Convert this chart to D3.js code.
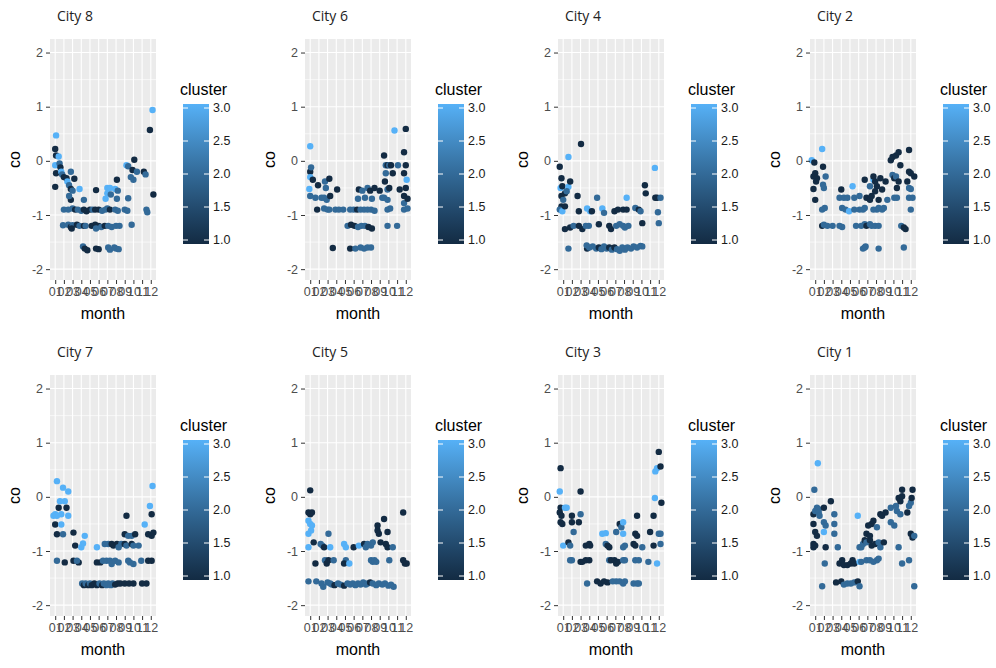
<!DOCTYPE html>
<html>
<head>
<meta charset="utf-8">
<script src="https://cdn.jsdelivr.net/npm/d3@7"></script>
<style>
  body { margin: 0; background: #fff; }
  text { font-family: "Liberation Sans", Arial, sans-serif; }
</style>
</head>
<body>
<div id="chart"></div>
<script>
// ---- data: [month (jittered), co, cluster] ----
const monthLabels = ["01","02","03","04","05","06","07","08","09","10","11","12"];
const yTicks = [-2, -1, 0, 1, 2];
const yMinor = [-1.5, -0.5, 0.5, 1.5];
const clusterBreaks = [1.0, 1.5, 2.0, 2.5, 3.0];
const cityNames = ["City 8", "City 6", "City 4", "City 2", "City 7", "City 5", "City 3", "City 1"];

const city8 = [
  [1.1,0.47,3],[1.0,0.22,1],[1.1,0.10,1],[1.4,0.08,3],[1.0,-0.08,3],[1.5,-0.05,2],[1.1,-0.23,1],[1.6,-0.12,1],
  [1.0,-0.48,1],[1.7,-0.2,3],[1.8,-0.25,2],[2.0,-0.3,1],[2.3,-0.32,1],[2.4,-0.38,3],[2.8,-0.2,2],[2.6,-0.45,2],
  [2.8,-0.52,1],[3.2,-0.33,1],[3.0,-0.55,2],[3.8,-0.52,3],[2.8,-0.72,1],[2.6,-0.65,2],[4.3,-0.72,2],[5.7,-0.54,1],
  [7.0,-0.5,3],[7.3,-0.5,3],[7.0,-0.6,3],[7.4,-0.62,2],[6.8,-0.7,3],[7.9,-0.52,3],[8.1,-0.35,1],[8.2,-0.55,2],
  [8.1,-0.7,2],[9.4,-0.69,2],
  [2.0,-0.9,2],[2.5,-0.9,2],[3.0,-0.88,2],[3.3,-0.9,1],[3.6,-0.9,2],[4.0,-0.92,2],[4.3,-0.9,1],[4.6,-0.93,1],
  [5.0,-0.9,1],[5.3,-0.9,2],[5.6,-0.9,1],[6.0,-0.9,1],[6.4,-0.92,2],[6.8,-0.9,2],[7.0,-0.88,2],[7.3,-0.9,1],
  [7.9,-0.9,2],[8.2,-0.92,2],[9.0,-0.9,2],[9.3,-0.92,2],[11.5,-0.9,2],[11.6,-0.95,2],
  [1.9,-1.19,2],[2.5,-1.18,2],[2.8,-1.22,1],[3.0,-1.19,2],[3.5,-1.18,1],[3.8,-1.2,2],[4.3,-1.2,1],[4.5,-1.2,2],
  [5.2,-1.2,1],[5.6,-1.18,1],[6.0,-1.2,1],[6.3,-1.22,2],[6.7,-1.2,1],[7.1,-1.2,2],[7.5,-1.22,2],[8.0,-1.2,2],
  [8.4,-1.2,2],[9.8,-1.18,2],[2.9,-1.25,1],[5.7,-1.25,2],
  [4.2,-1.58,2],[4.4,-1.62,1],[4.7,-1.65,1],[5.7,-1.62,1],[6.0,-1.63,1],[7.1,-1.6,2],[7.3,-1.64,2],[7.8,-1.6,2],
  [8.0,-1.62,2],[8.3,-1.63,2],
  [9.2,-0.08,3],[9.4,-0.1,2],[10.1,0.02,1],[9.9,-0.17,1],[9.7,-0.3,2],[10.0,-0.35,2],[10.4,-0.2,2],[11.2,-0.2,1],
  [11.4,-0.25,2],[11.9,0.57,1],[12.2,0.94,3],[12.3,-0.62,1]
];

const city6 = [
  [1.0,0.27,3],[1.0,-0.2,1],[1.1,-0.12,2],[1.0,-0.3,3],[0.9,-0.52,3],[1.0,-0.65,2],[1.3,-0.35,1],[1.9,-0.45,1],
  [1.6,-0.68,2],[1.8,-0.9,1],[2.3,-0.68,2],[2.6,-0.68,2],[2.9,-0.72,2],[2.7,-0.38,2],[2.8,-0.5,2],[3.2,-0.33,1],
  [3.2,-0.9,2],[2.6,-0.88,2],[3.0,-0.9,2],[3.3,-0.65,1],[4.1,-0.53,1],[3.9,-0.9,2],[4.3,-0.9,2],[4.8,-0.9,2],
  [3.6,-1.61,1],
  [5.3,-1.2,2],[5.7,-1.18,1],[6.1,-1.2,1],[6.5,-1.22,2],[6.9,-1.2,2],[7.3,-1.2,2],[7.7,-1.22,1],[8.1,-1.25,1],
  [5.6,-1.62,1],[6.2,-1.62,2],[6.8,-1.6,2],[7.2,-1.62,2],[7.6,-1.6,2],[8.0,-1.6,2],
  [5.6,-0.9,2],[6.0,-0.9,2],[6.4,-0.9,1],[6.8,-0.9,2],[7.2,-0.9,2],[7.6,-0.9,2],[8.0,-0.9,2],[8.4,-0.92,2],
  [6.6,-0.53,1],[6.5,-0.7,2],[7.0,-0.55,2],[7.3,-0.68,2],[7.6,-0.5,2],[7.9,-0.55,1],[8.1,-0.7,2],[8.4,-0.5,1],
  [9.0,-0.55,1],[9.3,-0.68,2],
  [9.5,0.1,1],[9.7,-0.08,2],[9.9,-0.08,1],[10.1,-0.08,2],[10.3,-0.08,1],[9.7,-0.23,2],[9.6,-0.38,1],[9.9,-0.53,2],
  [10.1,-0.5,1],[9.5,-0.68,2],[9.9,-0.72,2],[9.9,-0.9,2],[10.2,-0.88,2],[9.9,-1.2,2],[10.7,0.56,3],[10.5,-0.23,1],
  [11.1,-0.08,2],[11.0,-1.2,2],[11.3,-0.53,1],[11.8,0.16,1],[11.8,-0.23,1],[11.8,-0.78,2],[12.0,0.59,1],[12.0,-0.08,1],
  [12.1,-0.35,3],[12.0,-0.5,1],[11.8,-0.65,1],[12.2,-0.7,1],[11.8,-0.9,2],[12.2,-0.88,2]
];

const city4 = [
  [0.6,-0.11,1],[0.8,-0.32,1],[0.7,-0.5,3],[0.9,-0.47,1],[0.8,-0.65,1],[0.8,-0.84,1],[1.0,-0.72,2],[0.6,-0.9,2],
  [0.9,-0.93,3],[1.2,-0.84,1],[1.2,-0.6,1],[1.6,0.07,3],[1.6,-0.48,3],[1.4,-0.56,2],[1.8,-0.38,1],[1.2,-1.26,1],
  [1.8,-1.23,1],[2.2,-1.2,2],[1.6,-1.62,2],[2.65,-0.65,1],[2.8,-0.93,1],[3.05,0.31,1],[2.8,-1.2,1],[3.2,-1.26,1],
  [3.6,-1.2,2],[3.75,-1.62,1],[3.7,-1.56,2],[3.75,-0.88,3],[4.1,-0.93,3],[4.3,-0.93,1],[3.95,-1.2,2],[4.9,-0.68,2],
  [5.1,-1.17,1],[5.5,-0.88,3],[5.7,-0.96,2],[6.3,-1.2,1],[6.5,-1.26,1],
  [6.9,-0.93,1],[7.3,-0.9,1],[7.9,-0.9,1],[8.3,-0.9,1],
  [7.1,-1.2,2],[7.5,-1.17,2],[7.9,-1.2,2],[8.1,-1.23,2],[8.5,-1.2,2],
  [8.3,-0.68,3],[9.3,-0.87,2],[9.7,-0.9,1],[9.9,-0.93,2],[10.1,-1.15,1],[10.4,-0.45,1],[10.5,-0.6,1],
  [11.55,-0.13,3],[11.6,-0.68,1],[11.8,-0.68,1],[12.2,-0.68,2],[11.9,-0.95,2],[12.0,-1.15,2],
  [4.0,-1.6,2],[4.4,-1.58,2],[4.8,-1.62,2],[5.1,-1.6,1],[5.4,-1.63,2],[5.7,-1.58,2],[6.0,-1.62,2],[6.3,-1.6,1],
  [6.6,-1.64,2],[6.9,-1.6,1],[7.2,-1.63,2],[7.5,-1.66,2],[7.8,-1.6,2],[8.1,-1.64,2],[8.4,-1.6,2],[8.8,-1.62,2],
  [9.1,-1.58,2],[9.5,-1.6,2],[9.9,-1.57,2],[10.1,-1.58,2]
];

const city2 = [
  [0.6,0.01,3],[0.9,-0.03,1],[1.0,-0.23,1],[0.8,-0.29,1],[1.2,-0.32,1],[1.1,-0.38,1],[0.8,-0.52,1],[1.0,-0.72,1],
  [1.8,0.22,3],[1.9,-0.11,1],[2.2,-0.29,2],[1.9,-0.44,2],[2.0,-0.5,2],[1.8,-0.9,2],[2.1,-0.87,2],
  [1.8,-1.2,1],[2.0,-1.18,2],[2.4,-1.2,2],[3.0,-1.2,2],[3.8,-1.2,2],[4.1,-1.22,2],
  [4.0,-0.53,1],[3.8,-0.68,2],[4.3,-0.68,2],[4.1,-0.87,2],[4.5,-0.9,2],[4.7,-0.68,2],[4.9,-0.93,3],[5.3,-0.47,3],
  [5.5,-0.68,2],[5.5,-0.9,2],[5.7,-1.2,2],[6.1,-0.65,2],[6.1,-0.9,2],[6.5,-0.9,2],[6.7,-0.87,2],[6.7,-0.35,1],
  [6.3,-1.2,2],[6.7,-1.17,2],[6.9,-1.2,1],[7.3,-1.17,2],[7.5,-1.2,2],[7.9,-1.2,2],[8.3,-1.2,2],
  [6.5,-1.62,2],[6.7,-1.6,2],[6.8,-1.58,2],[8.3,-1.62,2],
  [6.9,-0.68,1],[7.3,-0.47,2],[7.3,-0.72,1],[7.5,-0.65,1],[7.7,-0.35,3],[7.7,-0.29,1],[7.9,-0.38,1],[7.9,-0.56,1],
  [8.1,-0.47,1],[8.3,-0.72,1],[8.5,-0.32,1],[7.7,-0.9,2],[8.1,-0.9,2],[8.3,-0.87,2],[8.7,-0.9,2],[8.9,-0.87,2],
  [8.7,-0.53,1],[9.1,-0.38,1],[9.3,-0.72,2],
  [9.7,0.01,1],[9.9,0.07,1],[10.3,0.1,1],[10.6,0.16,1],[9.9,-0.26,2],[10.1,-0.32,1],[10.3,-0.29,2],[10.1,-0.68,2],
  [10.4,-0.68,2],[10.8,-0.08,1],[10.4,-0.5,1],[10.6,-0.38,1],[10.9,-1.2,2],[11.2,-1.23,1],[11.4,-1.26,1],[11.2,-1.6,2],
  [11.8,0.2,1],[11.8,-0.2,1],[12.0,-0.23,1],[11.6,-0.38,1],[11.8,-0.5,2],[12.0,-0.52,2],[11.8,-0.68,2],[12.2,-0.68,2],
  [12.0,-0.9,2],[12.4,-0.29,1]
];

const city7 = [
  [1.2,0.29,3],[0.8,-0.35,3],[1.0,-0.32,3],[1.2,-0.35,3],[1.0,-0.51,1],[1.4,-0.2,1],[1.55,-0.08,3],[1.7,-0.32,3],
  [1.7,-0.51,3],[1.2,-0.69,1],[1.9,-0.69,2],[1.2,-1.18,2],[1.9,0.17,3],[2.1,-0.08,3],[2.3,-0.2,1],[2.5,-0.35,3],
  [2.5,0.1,3],[2.1,-1.21,1],[3.1,-0.66,1],[3.3,-0.9,1],[3.1,-1.18,1],[3.7,-1.21,1],[3.5,-1.18,2],[4.0,-0.93,3],
  [4.2,-0.86,3],[4.4,-0.72,3],[5.8,-0.93,3],[5.8,-1.21,1],[6.2,-1.21,1],[6.5,-1.18,2],[6.9,-1.18,2],[7.3,-1.18,2],
  [7.5,-1.24,2],[7.9,-1.18,2],[8.3,-1.21,2],[6.7,-0.87,2],[7.1,-0.87,2],[7.5,-0.87,1],[7.7,-0.9,1],[8.1,-0.87,1],
  [8.3,-0.93,2],[8.6,-0.87,2],[9.0,-0.87,1],[9.2,-0.9,2],[9.8,-0.87,1],[10.0,-0.9,2],[9.0,-0.69,1],[9.2,-0.35,1],
  [9.4,-0.72,2],[9.8,-0.72,2],[10.2,-0.69,1],[9.4,-1.18,2],[9.6,-1.21,2],[10.0,-1.24,2],[10.6,-0.9,2],[10.9,-1.18,2],
  [11.3,-0.51,3],[11.5,-1.6,1],[11.7,-0.69,1],[12.1,-0.72,1],[12.3,-0.66,1],[11.7,-1.18,1],[12.1,-1.18,1],
  [11.9,-0.17,3],[12.2,0.2,3],[12.1,-0.32,1],
  [4.1,-1.6,2],[4.3,-1.63,1],[4.5,-1.6,2],[4.8,-1.63,1],[5.0,-1.6,2],[5.2,-1.63,1],[5.5,-1.6,1],[5.8,-1.63,1],
  [6.1,-1.6,2],[6.4,-1.63,1],[6.6,-1.6,2],[6.9,-1.63,2],[7.1,-1.6,2],[7.4,-1.63,2],[7.6,-1.6,2],[7.9,-1.62,1],
  [8.2,-1.6,1],[8.5,-1.6,1],[9.0,-1.6,1],[9.5,-1.6,1],[10.0,-1.6,1],[11.0,-1.6,1]
];

const city5 = [
  [1.0,0.12,1],[0.8,-0.29,1],[1.0,-0.32,1],[1.2,-0.29,1],[0.8,-0.44,3],[1.0,-0.5,3],[1.2,-0.53,3],[0.8,-0.68,3],
  [1.1,-0.62,3],[0.8,-0.93,3],[1.4,-0.84,1],[1.6,-1.23,1],[2.2,-0.87,2],[2.4,-0.9,2],[2.6,-0.93,1],[2.7,-1.17,2],
  [3.1,-0.68,2],[2.9,-1.23,1],[3.1,-1.17,1],[3.3,-0.93,3],[3.7,-1.17,2],[4.9,-0.87,3],[5.1,-0.93,3],[5.1,-1.17,2],
  [4.9,-1.23,1],[5.5,-1.23,3],[6.0,-0.93,1],[6.6,-0.9,3],[7.2,-0.87,1],[7.4,-0.93,2],[7.6,-0.87,2],[8.0,-0.9,2],
  [8.2,-0.84,2],[8.0,-1.17,2],[8.2,-1.2,2],[8.4,-1.17,2],[8.6,-1.2,2],[8.75,-0.62,1],[8.75,-0.53,1],[8.9,-0.68,1],
  [9.1,-0.84,1],[9.5,-0.41,1],[9.7,-0.87,1],[9.9,-0.93,1],[9.9,-0.65,1],[10.1,-1.17,2],[10.5,-0.93,2],
  [11.7,-0.29,1],[11.7,-1.17,1],[11.9,-1.23,1],[12.1,-1.23,1],
  [0.8,-1.56,2],[1.7,-1.56,2],[2.3,-1.6,2],[2.5,-1.66,2],[3.0,-1.58,2],[3.3,-1.6,2],[3.5,-1.62,2],[3.8,-1.63,1],
  [4.2,-1.6,2],[4.5,-1.62,2],[4.9,-1.64,1],[5.3,-1.6,2],[5.6,-1.62,2],[5.9,-1.6,2],[6.2,-1.63,2],[6.5,-1.6,2],
  [6.8,-1.62,2],[7.1,-1.58,2],[7.4,-1.62,2],[7.6,-1.6,2],[7.9,-1.58,1],[8.2,-1.6,2],[8.6,-1.63,2],[8.9,-1.6,2],
  [9.3,-1.62,2],[9.6,-1.6,2],[10.0,-1.64,2],[10.3,-1.62,2],[10.6,-1.66,2]
];

const city3 = [
  [0.7,0.53,1],[0.6,0.1,3],[0.7,-0.2,1],[0.6,-0.29,1],[0.8,-0.35,1],[0.7,-0.47,1],[0.9,-0.5,1],[1.2,-0.2,3],
  [1.4,-0.2,3],[1.0,-0.9,3],[1.6,-0.84,1],[1.8,-0.9,2],[1.8,-1.17,2],[2.0,-1.17,2],[2.0,-0.35,1],[2.0,-0.47,1],
  [2.2,-0.65,2],[2.8,-0.47,1],[3.0,0.1,1],[3.0,-0.32,2],[3.0,-1.2,1],[3.2,-1.2,1],[3.6,-1.17,1],[4.0,-1.17,1],
  [3.6,-0.9,1],[4.0,-0.87,1],[4.1,-0.9,1],[3.75,-1.6,2],[4.9,-1.56,1],[5.3,-1.6,1],[5.7,-1.56,1],[6.1,-1.58,1],
  [5.5,-0.68,3],[5.9,-0.67,3],[5.9,-0.87,2],[6.1,-0.9,1],[6.3,-0.93,1],[6.3,-1.17,2],[6.5,-1.17,1],[6.9,-1.17,1],
  [7.1,-1.23,1],[7.3,-1.2,1],[7.9,-1.17,2],[8.1,-1.17,2],[6.7,-1.56,2],[7.1,-1.56,2],[7.5,-1.56,2],[7.9,-1.6,2],
  [8.1,-1.56,2],[7.1,-0.65,2],[7.5,-0.5,1],[7.7,-0.56,2],[7.9,-0.47,3],[7.9,-0.68,3],[7.9,-0.93,2],[8.1,-0.9,2],
  [9.1,-0.87,1],[9.3,-0.9,1],[9.5,-0.35,1],[9.3,-0.68,1],[9.5,-0.72,1],[9.3,-1.17,2],[9.7,-1.17,2],[9.1,-1.6,2],
  [9.5,-1.6,2],[9.7,-1.6,2],[10.1,-0.93,2],[10.8,-1.2,2],[11.0,-0.65,1],[11.4,-0.9,1],[11.4,-0.35,1],
  [11.55,-0.02,3],[11.6,0.47,3],[11.8,0.53,3],[11.8,-1.23,3],[12.0,0.83,1],[12.2,0.56,1],[12.3,-0.11,1],
  [12.0,-0.68,2],[12.2,-0.68,2],[12.2,-0.87,2]
];

const city1 = [
  [1.3,0.62,3],[0.9,0.13,2],[0.8,-0.32,1],[1.0,-0.26,2],[1.2,-0.2,2],[1.4,-0.23,2],[0.8,-0.5,1],[1.0,-0.65,1],
  [1.2,-0.72,1],[0.8,-0.87,1],[0.8,-0.93,1],[1.0,-0.9,1],[1.4,-0.29,2],[1.5,-0.35,2],[2.0,-0.65,3],[2.0,-0.47,2],
  [2.2,-0.53,2],[2.0,-0.2,1],[2.8,-0.08,1],[2.2,-0.93,1],[2.1,-1.23,2],[1.8,-1.65,2],[3.2,-0.32,2],[3.2,-0.5,2],
  [3.2,-0.68,2],[3.6,-0.93,2],[3.8,-1.23,1],[4.1,-1.17,1],[4.3,-1.26,1],[4.7,-1.26,1],[3.4,-1.58,1],[4.0,-1.56,1],
  [4.3,-1.62,2],[4.7,-1.6,2],[5.1,-1.6,2],[5.5,-1.58,2],[5.9,-1.56,1],[6.1,-1.65,2],[5.1,-1.23,1],[5.3,-1.17,1],
  [5.5,-1.23,1],[5.9,-0.35,3],[6.1,-0.93,2],[6.3,-0.93,2],[6.5,-0.87,2],[6.1,-1.2,3],[6.3,-1.2,2],[6.7,-0.8,1],
  [6.9,-0.84,2],[7.3,-0.8,1],[6.9,-0.68,1],[7.3,-0.72,1],[6.9,-1.17,2],[7.3,-1.17,2],[7.7,-1.2,2],[8.1,-1.17,2],
  [8.3,-1.14,2],[7.1,-0.53,1],[7.5,-0.5,1],[7.7,-0.44,1],[8.1,-0.56,2],[7.5,-0.9,1],[7.9,-0.87,1],[8.3,-0.84,2],
  [8.5,-0.93,2],[8.9,-0.84,1],[8.5,-0.32,1],[8.7,-0.35,1],[9.1,-0.29,1],[9.7,-0.2,2],[9.7,-0.47,2],[10.1,-0.53,2],
  [10.3,-0.17,2],[10.4,-0.26,2],[10.8,-0.32,2],[10.6,-0.02,1],[10.8,-0.08,1],[11.0,0.01,1],[11.0,0.13,1],
  [10.6,-0.93,2],[11.0,-1.23,2],[11.6,-0.29,1],[11.8,-0.17,2],[12.0,-0.11,2],[12.1,-0.02,1],[12.2,0.13,1],
  [11.8,-1.17,2],[12.0,-0.68,1],[12.2,-0.75,1],[12.4,-0.72,2],[12.4,-1.65,2]
];

// table of the panels, in drawing order
const cityPoints = [city8, city6, city4, city2, city7, city5, city3, city1];

// ---- layout ----
const width = 996, height = 668;
const colLeft = [50, 305, 558, 810];
const rowTop = [39, 375];
const panelW = 106, panelH = 241;

const svg = d3.select("#chart")
  .append("svg")
  .attr("width", width)
  .attr("height", height)
  .style("display", "block");

svg.append("rect").attr("width", width).attr("height", height).attr("fill", "#fff");

// scales shared by every panel
const x = d3.scaleLinear().domain([0.4, 12.6]).range([0, panelW]);
const y = d3.scaleLinear().domain([-2.2, 2.25]).range([panelH, 0]);
const color = d3.scaleLinear()
  .domain([1, 3])
  .range(["#132B43", "#56B1F7"])
  .interpolate(d3.interpolateLab);

// gradient for the colour bar
const grad = svg.append("defs").append("linearGradient")
  .attr("id", "clusterGrad")
  .attr("x1", 0).attr("x2", 0).attr("y1", 1).attr("y2", 0);
d3.range(0, 1.0001, 0.1).forEach(t => {
  grad.append("stop").attr("offset", t).attr("stop-color", color(1 + 2 * t));
});

cityNames.forEach((name, i) => {
  const g = svg.append("g")
    .attr("transform", `translate(${colLeft[i % 4]},${rowTop[Math.floor(i / 4)]})`);

  // panel background and grid
  g.append("rect")
    .attr("width", panelW).attr("height", panelH)
    .attr("fill", "#EBEBEB");

  g.selectAll(".minor")
    .data(yMinor)
    .enter().append("line")
    .attr("x1", 0).attr("x2", panelW)
    .attr("y1", d => y(d)).attr("y2", d => y(d))
    .attr("stroke", "#fff").attr("stroke-width", 0.6);

  g.selectAll(".major")
    .data(yTicks)
    .enter().append("line")
    .attr("x1", 0).attr("x2", panelW)
    .attr("y1", d => y(d)).attr("y2", d => y(d))
    .attr("stroke", "#fff").attr("stroke-width", 1.1);

  g.selectAll(".vgrid")
    .data(d3.range(1, 13))
    .enter().append("line")
    .attr("x1", d => x(d)).attr("x2", d => x(d))
    .attr("y1", 0).attr("y2", panelH)
    .attr("stroke", "#fff").attr("stroke-width", 1.1);

  // points
  g.append("g")
    .selectAll("circle")
    .data(cityPoints[i])
    .enter().append("circle")
    .attr("cx", d => x(d[0]))
    .attr("cy", d => y(d[1]))
    .attr("r", 3.2)
    .attr("fill", d => color(d[2]));

  // axes
  const xAxis = g.append("g")
    .attr("transform", `translate(0,${panelH})`)
    .call(d3.axisBottom(x)
      .tickValues(d3.range(1, 13))
      .tickFormat(d => monthLabels[d - 1])
      .tickSize(4).tickPadding(3));
  const yAxis = g.append("g")
    .call(d3.axisLeft(y)
      .tickValues(yTicks)
      .tickFormat(d => String(d))
      .tickSize(4).tickPadding(3));

  [xAxis, yAxis].forEach(a => {
    a.select(".domain").remove();
    a.selectAll(".tick line").attr("stroke", "#333");
    a.selectAll(".tick text")
      .attr("fill", "#4D4D4D")
      .style("font-size", "12.5px")
      .style("font-family", "'Liberation Sans', Arial, sans-serif");
  });

  // titles
  g.append("text")
    .attr("x", 7).attr("y", -18)
    .attr("fill", "#222")
    .style("font-family", "'Open Sans', 'Noto Sans', sans-serif")
    .style("font-size", "14px")
    .text(name);

  g.append("text")
    .attr("x", panelW / 2).attr("y", 280)
    .attr("text-anchor", "middle")
    .style("font-size", "16px")
    .text("month");

  g.append("text")
    .attr("transform", `translate(-30,${panelH / 2}) rotate(-90)`)
    .attr("text-anchor", "middle")
    .style("font-size", "16px")
    .text("co");

  // colour bar legend
  const leg = g.append("g").attr("transform", `translate(${panelW + 27},0)`);
  const barW = 26, barTop = 65, barH = 140;
  const ly = d3.scaleLinear().domain([1, 3]).range([barTop + barH - 4, barTop + 4]);

  leg.append("text")
    .attr("x", -3).attr("y", 56)
    .style("font-size", "16px")
    .text("cluster");

  leg.append("rect")
    .attr("x", 0).attr("y", barTop)
    .attr("width", barW).attr("height", barH)
    .attr("fill", "url(#clusterGrad)");

  leg.selectAll(".tickL")
    .data(clusterBreaks)
    .enter().append("line")
    .attr("x1", 0).attr("x2", 5)
    .attr("y1", d => ly(d)).attr("y2", d => ly(d))
    .attr("stroke", "#fff").attr("stroke-width", 1);
  leg.selectAll(".tickR")
    .data(clusterBreaks)
    .enter().append("line")
    .attr("x1", barW - 5).attr("x2", barW)
    .attr("y1", d => ly(d)).attr("y2", d => ly(d))
    .attr("stroke", "#fff").attr("stroke-width", 1);

  leg.selectAll(".lab")
    .data(clusterBreaks)
    .enter().append("text")
    .attr("x", barW + 4)
    .attr("y", d => ly(d))
    .attr("dy", "0.35em")
    .attr("fill", "#1A1A1A")
    .style("font-size", "12.5px")
    .text(d => d.toFixed(1));
});
</script>
</body>
</html>
